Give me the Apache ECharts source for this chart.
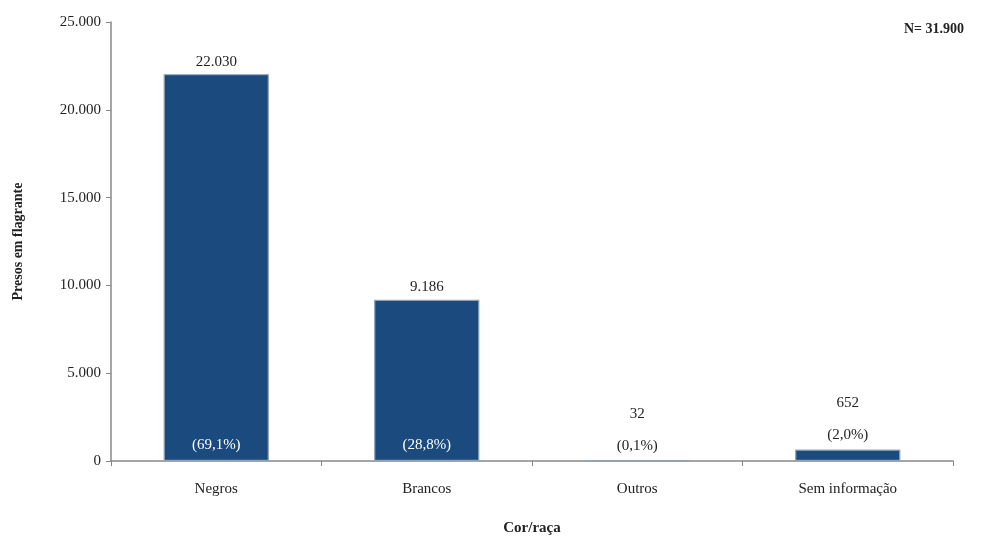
<!DOCTYPE html>
<html><head><meta charset="utf-8">
<script src="https://cdn.jsdelivr.net/npm/echarts@6/dist/echarts.min.js"></script>
<style>html,body{margin:0;padding:0;background:#fff}#c{width:981px;height:537px}</style>
</head><body><div id="c"></div>
<script>
const categories = ['Negros', 'Brancos', 'Outros', 'Sem informação'];
const values = [22030, 9186, 32, 652];
const percents = ['69,1%', '28,8%', '0,1%', '2,0%'];
const insideIdx = [true, true, false, false];
const yTicks = [0, 5000, 10000, 15000, 20000, 25000];

const FONT = '"Liberation Serif", "DejaVu Serif", serif';
const fmt = v => String(v).replace(/\B(?=(\d{3})+(?!\d))/g, '.');

const chart = echarts.init(document.getElementById('c'));
chart.setOption({
  animation: false,
  textStyle: { fontFamily: FONT },
  grid: { left: 111, right: 28, top: 22, bottom: 76, outerBoundsMode: 'none', containLabel: false },
  title: {
    text: 'N= 31.900', right: 12, top: 17,
    textStyle: { fontFamily: FONT, fontSize: 14, fontWeight: 'bold', color: '#222' }
  },
  xAxis: {
    type: 'category', data: categories,
    name: 'Cor/raça', nameLocation: 'middle', nameGap: 60,
    nameTextStyle: { fontFamily: FONT, fontSize: 15, fontWeight: 'bold', color: '#222' },
    axisLine: { lineStyle: { color: '#888', width: 1.5 } },
    axisTick: { show: true, length: 5, lineStyle: { color: '#888' } },
    axisLabel: { fontFamily: FONT, fontSize: 15, color: '#222', margin: 21 }
  },
  yAxis: {
    type: 'value', min: yTicks[0], max: yTicks[yTicks.length - 1], interval: 5000,
    name: 'Presos em flagrante', nameLocation: 'middle', nameGap: 86, nameRotate: 90,
    nameTextStyle: { fontFamily: FONT, fontSize: 14, fontWeight: 'bold', color: '#222' },
    splitLine: { show: false },
    axisLine: { show: true, lineStyle: { color: '#888', width: 1.5 } },
    axisTick: { show: true, length: 5, lineStyle: { color: '#888' } },
    axisLabel: { fontFamily: FONT, fontSize: 15, color: '#222', margin: 10, formatter: v => fmt(v) }
  },
  series: [
    {
      type: 'bar', barWidth: '50%',
      data: values.map((v, i) => ({
        value: v,
        label: insideIdx[i]
          ? { show: true, position: 'top', distance: 5, formatter: fmt(v) }
          : { show: true, position: 'top', distance: -2, lineHeight: 32, formatter: fmt(v) + '\n(' + percents[i] + ')' }
      })),
      itemStyle: { color: '#1a4a7e', borderColor: '#8fa2b6', borderWidth: 1.2 },
      label: { fontFamily: FONT, fontSize: 15, color: '#222' }
    },
    {
      type: 'bar', barWidth: '50%', barGap: '-100%', silent: true,
      data: values.map((v, i) => ({
        value: v,
        label: { show: insideIdx[i], position: 'insideBottom', distance: 8, formatter: '(' + percents[i] + ')' }
      })),
      itemStyle: { color: 'rgba(0,0,0,0)' },
      label: { fontFamily: FONT, fontSize: 15, color: '#fff' }
    }
  ]
});
</script></body></html>
